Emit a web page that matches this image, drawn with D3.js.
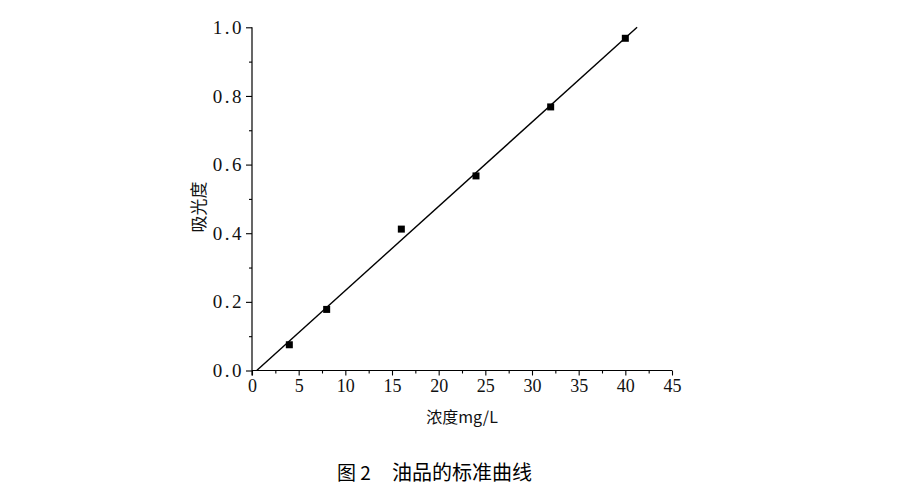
<!DOCTYPE html>
<html>
<head>
<meta charset="utf-8">
<script src="https://cdn.jsdelivr.net/npm/d3@7"></script>
<style>
  html, body { margin: 0; padding: 0; background: #fff; }
  svg { display: block; }
</style>
</head>
<body>
<svg id="chart" width="907" height="491"></svg>
<script>
// Data
const concentration = [4, 8, 16, 24, 32, 40];
const absorbance = [0.075, 0.178, 0.412, 0.567, 0.768, 0.968];
const xTicks = [0, 5, 10, 15, 20, 25, 30, 35, 40, 45];
const yTicks = [0.0, 0.2, 0.4, 0.6, 0.8, 1.0];
const xLabel = "浓度mg/L";
const yLabel = "吸光度";
const captionNum = "图 2";
const captionText = "油品的标准曲线";

const svg = d3.select("#chart");
const x = d3.scaleLinear().domain([0, 45]).range([252, 672]);
const y = d3.scaleLinear().domain([0, 1]).range([370.5, 27.3]);

const serif = "'Liberation Serif', 'DejaVu Serif', serif";
const cjk = "'Noto Sans CJK SC', sans-serif";

// Minor ticks
const xMinor = d3.range(0, 45.01, 2.5).filter(v => !xTicks.includes(v));
const yMinor = d3.range(0.1, 1.0, 0.2);

// X axis
const gx = svg.append("g").attr("transform", `translate(0,${y(0)})`);
gx.call(d3.axisBottom(x).tickValues(xTicks).tickSize(5).tickPadding(4).tickFormat(d3.format("d")));
gx.append("g").call(d3.axisBottom(x).tickValues(xMinor).tickSize(3).tickFormat(""))
  .select(".domain").remove();

// Y axis
const gy = svg.append("g").attr("transform", `translate(${x(0)},0)`);
gy.call(d3.axisLeft(y).tickValues(yTicks).tickSize(6).tickPadding(2).tickFormat(d3.format(".1f")));
gy.append("g").call(d3.axisLeft(y).tickValues(yMinor).tickSize(3).tickFormat(""))
  .select(".domain").remove();

svg.selectAll(".domain").attr("stroke", "#000").attr("stroke-width", 1.2);
svg.selectAll(".tick line").attr("stroke", "#000").attr("stroke-width", 1.1);
gx.selectAll(".tick text").attr("font-family", serif).attr("font-size", 18).attr("fill", "#111");
gy.selectAll(".tick text").attr("font-family", serif).attr("font-size", 19).attr("fill", "#111")
  .attr("letter-spacing", "2.5px");
gx.select(".domain").attr("d", `M${x(0)},0H${x(45)}`);
gy.select(".domain").attr("d", `M0,${y(0) + 5}V${y(1)}`);

// Linear regression fit
const n = concentration.length;
const mx = d3.mean(concentration), my = d3.mean(absorbance);
let sxy = 0, sxx = 0;
for (let i = 0; i < n; i++) {
  sxy += (concentration[i] - mx) * (absorbance[i] - my);
  sxx += (concentration[i] - mx) ** 2;
}
const slope = sxy / sxx, intercept = my - slope * mx;
const fitPts = [0, 1].map(v => [(v - intercept) / slope, v]);

svg.append("path")
  .datum(fitPts)
  .attr("d", d3.line().x(d => x(d[0])).y(d => y(d[1])))
  .attr("stroke", "#000").attr("stroke-width", 1.4).attr("fill", "none");

// Markers
const s = 7;
svg.selectAll("rect.pt")
  .data(concentration.map((c, i) => [c, absorbance[i]]))
  .enter().append("rect")
  .attr("class", "pt")
  .attr("x", d => x(d[0]) - s / 2)
  .attr("y", d => y(d[1]) - s / 2)
  .attr("width", s).attr("height", s)
  .attr("fill", "#000");

// Axis labels
svg.append("text")
  .attr("x", (x(0) + x(45)) / 2)
  .attr("y", 423)
  .attr("text-anchor", "middle")
  .attr("font-family", cjk).attr("font-size", 16).attr("fill", "#111")
  .text(xLabel);

svg.append("text")
  .attr("transform", `translate(205, ${(y(0) + y(1)) / 2 + 8}) rotate(-90)`)
  .attr("text-anchor", "middle")
  .attr("font-family", cjk).attr("font-size", 17).attr("fill", "#111")
  .text(yLabel);

// Caption
svg.append("text")
  .attr("x", 337).attr("y", 480)
  .attr("font-family", cjk).attr("font-size", 19).attr("fill", "#000")
  .text(captionNum);
svg.append("text")
  .attr("x", 392).attr("y", 480)
  .attr("font-family", cjk).attr("font-size", 20).attr("font-weight", 400).attr("fill", "#000")
  .text(captionText);
</script>
</body>
</html>
